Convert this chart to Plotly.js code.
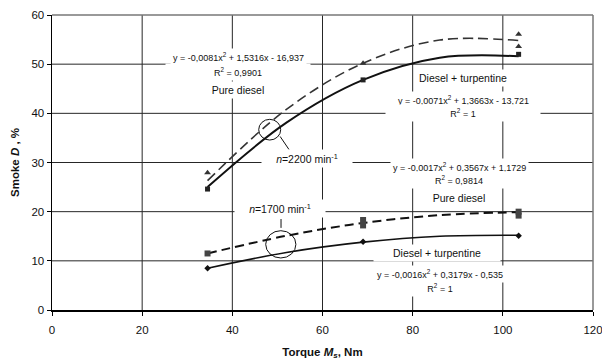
<!DOCTYPE html>
<html>
<head>
<meta charset="utf-8">
<script src="https://cdn.plot.ly/plotly-3.0.1.min.js"></script>
<style>html,body{margin:0;padding:0;background:#fff;}#chart{width:602px;height:360px;}</style>
</head>
<body>
<div id="chart"></div>
<script>
// Measured points (torque, Nm)
const torque = [34.5, 69, 103.5];
// n = 2200 min^-1
const pd2200_x = [34.5, 69, 103.5, 103.5];
const pd2200_y = [27.9, 50.2, 56.1, 53.6];
const dt2200_y = [24.6, 46.8, 52.0];
// n = 1700 min^-1
const pd1700_x = [34.5, 69, 69, 103.5, 103.5];
const pd1700_y = [11.5, 17.2, 18.3, 19.2, 20.0];
const dt1700_y = [8.5, 13.9, 15.1];
// Trend curves
const curveX = [34.5, 52, 69, 86, 103.5];
const pd2200_fit = [26.3, 40.8, 50.2, 54.9, 54.8];
const dt2200_fit = [25.0, 38.1, 46.8, 51.3, 51.6];
const pd1700_fit = [11.5, 15.1, 17.7, 19.3, 19.9];
const dt1700_fit = [8.5, 11.7, 13.8, 15.0, 15.2];
// Axis ticks
const xTicks = [0, 20, 40, 60, 80, 100, 120];
const yTicks = [0, 10, 20, 30, 40, 50, 60];

const traces = [
  {x: curveX, y: pd2200_fit, mode: 'lines', line: {color: '#333', width: 1.6, dash: '10px,5px', shape: 'spline'}},
  {x: curveX, y: dt2200_fit, mode: 'lines', line: {color: '#111', width: 2, shape: 'spline'}},
  {x: curveX, y: pd1700_fit, mode: 'lines', line: {color: '#111', width: 2, dash: '9px,5px', shape: 'spline'}},
  {x: curveX, y: dt1700_fit, mode: 'lines', line: {color: '#111', width: 1.6, shape: 'spline'}},
  {x: pd2200_x, y: pd2200_y, mode: 'markers', marker: {symbol: 'triangle-up', size: 6, color: '#333'}},
  {x: torque, y: dt2200_y, mode: 'markers', marker: {symbol: 'square', size: 5, color: '#222'}},
  {x: pd1700_x, y: pd1700_y, mode: 'markers', marker: {symbol: 'square', size: 6, color: '#444'}},
  {x: torque, y: dt1700_y, mode: 'markers', marker: {symbol: 'diamond', size: 5, color: '#111'}}
];

const aFont = {family: 'Liberation Sans, Arial, sans-serif', size: 9, color: '#111'};
const lFont = {family: 'Liberation Sans, Arial, sans-serif', size: 10.5, color: '#111'};
function ann(x, y, text, font, width) {
  const a = {x: x, y: y, xref: 'x', yref: 'y', text: text, showarrow: false, font: font || aFont,
          bgcolor: '#fff', borderpad: 2, xanchor: 'center', yanchor: 'middle'};
  if (width) a.width = width;
  return a;
}
const annotations = [
  ann(41.3, 51.5, 'y = -0,0081x<sup>2</sup> + 1,5316x - 16,937'),
  ann(41.3, 48.4, 'R<sup>2</sup> = 0,9901', aFont, 140),
  ann(41.3, 44.7, 'Pure diesel', lFont, 80),
  ann(91.2, 47.2, 'Diesel + turpentine', lFont),
  ann(91.2, 42.7, 'y = -0,0071x<sup>2</sup> + 1,3663x - 13,721'),
  ann(91.2, 40.1, 'R<sup>2</sup> = 1', aFont, 150),
  ann(56.6, 30.9, '<i>n</i>=2200 min<sup>-1</sup>', lFont, 86),
  ann(90.3, 29.1, 'y = -0,0017x<sup>2</sup> + 0,3567x + 1,1729'),
  ann(90.3, 26.4, 'R<sup>2</sup> = 0,9814', aFont, 120),
  ann(90.3, 22.8, 'Pure diesel', lFont, 80),
  ann(50.6, 20.7, '<i>n</i>=1700 min<sup>-1</sup>', lFont, 86),
  ann(85.4, 11.6, 'Diesel + turpentine', lFont, 122),
  ann(86.1, 7.3, 'y = -0,0016x<sup>2</sup> + 0,3179x - 0,535'),
  ann(86.1, 4.5, 'R<sup>2</sup> = 1', aFont, 100)
];

const gridColor = '#262626';
const gridShapes = [];
xTicks.slice(1, -1).forEach(v => gridShapes.push({type: 'line', layer: 'below', xref: 'x', yref: 'paper', x0: v, x1: v, y0: 0, y1: 1, line: {color: gridColor, width: 1}}));
yTicks.slice(1, -1).forEach(v => gridShapes.push({type: 'line', layer: 'below', xref: 'paper', yref: 'y', x0: 0, x1: 1, y0: v, y1: v, line: {color: gridColor, width: 1}}));

const shapes = gridShapes.concat([
  {type: 'line', xref: 'paper', yref: 'paper', x0: 0, x1: 1, y0: 1, y1: 1, line: {color: '#777', width: 1.5}},
  {type: 'line', xref: 'paper', yref: 'paper', x0: 1, x1: 1, y0: 0, y1: 1, line: {color: '#777', width: 1.5}},
  {type: 'circle', xref: 'x', yref: 'y', x0: 45.85, x1: 50.73, y0: 34.57, y1: 38.78, line: {color: '#111', width: 1}},
  {type: 'line', xref: 'x', yref: 'y', x0: 50.6, x1: 52.6, y0: 35.3, y1: 32.6, line: {color: '#111', width: 1}},
  {type: 'circle', xref: 'x', yref: 'y', x0: 47.4, x1: 54.1, y0: 10.58, y1: 16.13, line: {color: '#111', width: 1}},
  {type: 'line', xref: 'x', yref: 'y', x0: 50.8, x1: 50.8, y0: 16.7, y1: 18.5, line: {color: '#111', width: 1}}
]);

const tickFont = {family: 'Liberation Sans, Arial, sans-serif', size: 11.5, color: '#111'};
const layout = {
  width: 602, height: 360,
  margin: {l: 52, r: 9, t: 15, b: 50},
  paper_bgcolor: '#fff', plot_bgcolor: '#fff',
  showlegend: false,
  font: {family: 'Liberation Sans, Arial, sans-serif'},
  xaxis: {
    range: [0, 120], tickmode: 'array', tickvals: xTicks, ticktext: xTicks.map(String),
    showgrid: false,
    showline: true, linecolor: '#000', linewidth: 1.5, ticks: 'outside', ticklen: 4, tickcolor: '#000',
    tickfont: tickFont, zeroline: false, ticklabeloverflow: 'allow', ticklabelstandoff: 5,
    title: {text: '<b>Torque <i>M</i><sub><i>s</i></sub>, Nm</b>', font: {family: 'Liberation Sans, Arial, sans-serif', size: 11.5, color: '#111'}, standoff: 14}
  },
  yaxis: {
    range: [0, 60], tickmode: 'array', tickvals: yTicks, ticktext: yTicks.map(String),
    showgrid: false,
    showline: true, linecolor: '#000', linewidth: 1.5, ticks: 'outside', ticklen: 4, tickcolor: '#000',
    tickfont: tickFont, zeroline: false, ticklabeloverflow: 'allow',
    title: {text: '<b>Smoke <i>D</i> , %</b>', font: {family: 'Liberation Sans, Arial, sans-serif', size: 11.5, color: '#111'}, standoff: 9}
  },
  annotations: annotations,
  shapes: shapes
};

Plotly.newPlot('chart', traces, layout, {displayModeBar: false, staticPlot: true});
</script>
</body>
</html>
